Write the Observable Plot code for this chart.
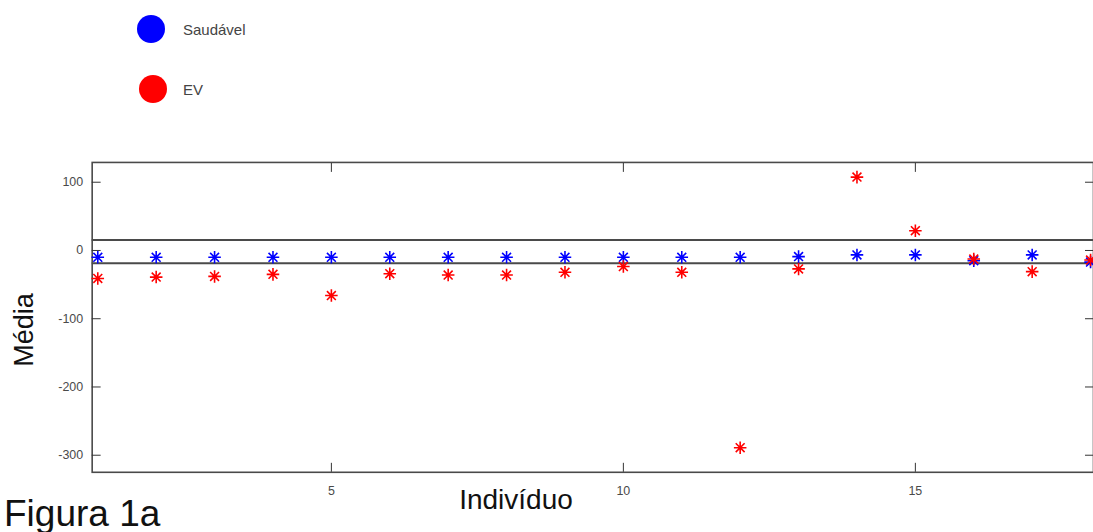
<!DOCTYPE html>
<html>
<head>
<meta charset="utf-8">
<script src="https://cdn.jsdelivr.net/npm/d3@7"></script>
<script src="https://cdn.jsdelivr.net/npm/@observablehq/plot@0.6"></script>
<style>
  html, body { margin: 0; padding: 0; background: #fff; overflow: hidden; width: 1093px; height: 532px; }
  #wrap { position: relative; width: 1093px; height: 532px; font-family: "Liberation Sans", Arial, sans-serif; }
  #legend { position: absolute; left: 0; top: 0; width: 1093px; height: 145px; }
  .sw { position: absolute; width: 28px; height: 28px; border-radius: 50%; }
  .lt { position: absolute; font-size: 15px; color: #444; line-height: 1; }
  #chart { position: absolute; left: 0; top: 145px; }
  .lab { position: absolute; color: #111; white-space: nowrap; line-height: 1; }
</style>
</head>
<body>
<div id="wrap">
  <div id="legend"></div>
  <div id="chart"></div>
  <div class="lab" style="left:4px; top:495px; font-size:37px;">Figura 1a</div>
  <div class="lab" style="left:516px; top:486px; font-size:28px; transform:translateX(-50%);">Indivíduo</div>
  <div class="lab" style="left:24px; top:330px; font-size:27px; transform:translate(-50%,-50%) rotate(-90deg);">Média</div>
</div>
<script>
const individuo = [1, 2, 3, 4, 5, 6, 7, 8, 9, 10, 11, 12, 13, 14, 15, 16, 17, 18];
const saudavel = [-10, -10, -10, -10, -10, -10, -10, -10, -10, -10, -10, -10, -9, -6.5, -6.5, -15, -6.5, -17];
const ev = [-41, -39, -38, -35, -66, -34, -36, -36, -32, -23.5, -32, -289, -27, 107.5, 29, -12.5, -31, -14];
const limites = [15.3, -18.6];
const seriesNames = ["Saudável", "EV"];
const seriesColors = ["#0000ff", "#ff0000"];
const xTicks = [5, 10, 15];
const yTicks = [100, 0, -100, -200, -300];

// legend
const legend = document.getElementById("legend");
const legendPos = [[137, 15], [139, 75]];
seriesNames.forEach((name, i) => {
  const sw = document.createElement("div");
  sw.className = "sw";
  sw.style.left = legendPos[i][0] + "px";
  sw.style.top = legendPos[i][1] + "px";
  sw.style.background = seriesColors[i];
  legend.appendChild(sw);
  const t = document.createElement("div");
  t.className = "lt";
  t.textContent = name;
  t.style.left = "183px";
  t.style.top = (legendPos[i][1] + 7) + "px";
  legend.appendChild(t);
});

const rows = [];
individuo.forEach((x, i) => rows.push({x, y: saudavel[i], s: seriesNames[0]}));
individuo.forEach((x, i) => rows.push({x, y: ev[i], s: seriesNames[1]}));

// MATLAB-like 8-arm asterisk
const star8 = {
  draw(ctx, size) {
    const r = Math.sqrt(size / Math.PI);
    const d = r * Math.SQRT1_2;
    ctx.moveTo(-r, 0); ctx.lineTo(r, 0);
    ctx.moveTo(0, -r); ctx.lineTo(0, r);
    ctx.moveTo(-d, -d); ctx.lineTo(d, d);
    ctx.moveTo(-d, d); ctx.lineTo(d, -d);
  }
};

const axisStyle = {fontSize: 12.5, fill: "#4a4a4a", fontFamily: "Liberation Sans, Arial, sans-serif"};

const chart = Plot.plot({
  width: 1097,
  height: 387,
  marginLeft: 92,
  marginRight: 0,
  marginTop: 17,
  marginBottom: 59,
  style: {fontFamily: "Liberation Sans, Arial, sans-serif", background: "transparent", overflow: "visible"},
  x: {domain: [0.904, 18.05]},
  y: {domain: [-325, 129]},
  color: {domain: seriesNames, range: seriesColors},
  marks: [
    Plot.frame({stroke: "#4a4a4a", strokeWidth: 1.6}),
    Plot.ruleY(limites, {stroke: "#4a4a4a", strokeWidth: 2}),
    Plot.axisY({ticks: yTicks, tickSize: -9, tickPadding: 18, tickFormat: d => String(d), label: null, stroke: "#333", ...axisStyle}),
    Plot.axisY({ticks: yTicks, anchor: "right", tickSize: -9, tickFormat: () => "", label: null, stroke: "#333"}),
    Plot.axisX({ticks: xTicks, tickSize: -9, tickPadding: 23, tickFormat: d => String(d), label: null, stroke: "#333", ...axisStyle}),
    Plot.axisX({ticks: xTicks, anchor: "top", tickSize: -9, tickFormat: () => "", label: null, stroke: "#333"}),
    Plot.dot(rows, {x: "x", y: "y", stroke: "s", fill: "none", symbol: star8, r: 6.3, strokeWidth: 1.6})
  ]
});
document.getElementById("chart").appendChild(chart);
</script>
</body>
</html>
